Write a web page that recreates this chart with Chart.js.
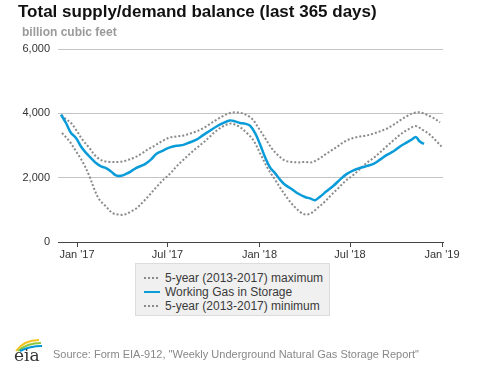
<!DOCTYPE html>
<html>
<head>
<meta charset="utf-8">
<script src="https://cdn.jsdelivr.net/npm/chart.js"></script>
<style>
  body { margin: 0; background: #fff; font-family: "Liberation Sans", Arial, sans-serif; }
  #wrap { position: relative; width: 477px; height: 367px; overflow: hidden; }
  #chart { position: absolute; left: 0; top: 0; }
  .title { position: absolute; left: 18px; top: 3px; font-size: 17px; font-weight: bold; color: #111; line-height: 17px; }
  .subtitle { position: absolute; left: 22px; top: 26px; font-size: 12px; font-weight: bold; color: #9a9a9a; line-height: 12px; }
  #legend { position: absolute; left: 135px; top: 263px; width: 193px; height: 51px; background: #f0f0f0; border: 1px solid #dcdcdc; }
  .row { position: absolute; left: 0; height: 14px; font-size: 12px; color: #3a3a3a; line-height: 14px; }
  .sample { position: absolute; left: 8px; top: 6px; width: 16px; height: 2px; }
  .label { position: absolute; left: 29px; top: 0; white-space: nowrap; }
  .source { position: absolute; left: 53px; top: 348px; font-size: 11px; color: #888; line-height: 13px; }
  #logo { position: absolute; left: 12px; top: 336px; }
</style>
</head>
<body>
<div id="wrap">
  <canvas id="chart" width="477" height="367"></canvas>
  <div class="title">Total supply/demand balance (last 365 days)</div>
  <div class="subtitle">billion cubic feet</div>
  <div id="legend"></div>
  <svg id="logo" width="36" height="30" viewBox="0 0 36 30">
    <path d="M4 15 Q12 4 27 4" stroke="#f5c21b" stroke-width="2" fill="none"/>
    <path d="M6 15 Q15 7 29 7" stroke="#8dc63f" stroke-width="2" fill="none"/>
    <path d="M8 15 Q18 10 30 10" stroke="#0096d7" stroke-width="2" fill="none"/>
    <text x="2" y="25" font-family="DejaVu Serif, serif" font-size="17" fill="#333">eia</text>
  </svg>
  <div class="source">Source: Form EIA-912, "Weekly Underground Natural Gas Storage Report"</div>
</div>
<script>
// x values are days counted from Jan 1 2017
const tickDays = [0, 181, 365, 546, 730];
const tickLabels = ["Jan '17", "Jul '17", "Jan '18", "Jul '18", "Jan '19"];

const maxDays = [-31, -25, -12, -2, 11, 25, 38, 51, 65, 85, 98, 115, 129, 143, 156, 173, 186, 199, 213, 226, 239, 253, 266, 279, 293, 306, 319, 333, 349, 363, 376, 389, 403, 416, 429, 443, 456, 469, 483, 496, 509, 523, 536, 553, 566, 579, 593, 606, 619, 633, 646, 659, 673, 686, 699, 713, 726];
const maxValues = [3950, 3855, 3700, 3490, 3180, 2920, 2660, 2530, 2490, 2490, 2530, 2630, 2745, 2890, 3000, 3160, 3250, 3280, 3310, 3370, 3440, 3545, 3670, 3800, 3925, 4010, 4030, 3990, 3850, 3545, 3235, 2920, 2685, 2530, 2490, 2475, 2490, 2475, 2580, 2715, 2850, 2990, 3130, 3235, 3280, 3310, 3370, 3440, 3520, 3645, 3780, 3905, 4010, 4030, 3960, 3855, 3720];

const gasDays = [-32, -22, -12, -2, 8, 18, 28, 38, 48, 58, 68, 78, 88, 98, 108, 118, 136, 149, 159, 173, 186, 199, 213, 226, 239, 253, 266, 279, 293, 306, 316, 326, 336, 346, 356, 366, 376, 386, 396, 406, 416, 429, 443, 456, 466, 476, 486, 499, 513, 526, 539, 553, 566, 579, 593, 606, 619, 633, 646, 659, 669, 678, 685, 694];
const gasValues = [3960, 3700, 3390, 3235, 2970, 2770, 2610, 2455, 2350, 2300, 2195, 2070, 2060, 2115, 2195, 2300, 2420, 2580, 2745, 2850, 2940, 2990, 3020, 3100, 3180, 3330, 3460, 3590, 3700, 3780, 3750, 3700, 3680, 3620, 3390, 3040, 2640, 2320, 2140, 1940, 1780, 1650, 1500, 1400, 1355, 1300, 1410, 1575, 1750, 1940, 2110, 2230, 2300, 2360, 2430, 2560, 2700, 2820, 2970, 3090, 3180, 3260, 3130, 3050];

const minDays = [-30, -15, -2, 11, 25, 35, 45, 58, 71, 85, 95, 108, 118, 133, 146, 159, 173, 186, 199, 213, 226, 239, 253, 266, 279, 293, 306, 316, 326, 339, 352, 368, 383, 396, 409, 423, 436, 453, 466, 479, 496, 509, 523, 536, 553, 566, 579, 593, 606, 619, 633, 646, 659, 673, 680, 693, 706, 719, 729];
const minValues = [3390, 3130, 2820, 2500, 2040, 1625, 1315, 1105, 900, 850, 850, 950, 1035, 1260, 1480, 1710, 1940, 2120, 2350, 2560, 2745, 2920, 3095, 3280, 3460, 3600, 3680, 3650, 3570, 3400, 3180, 2700, 2250, 1940, 1625, 1315, 1080, 870, 880, 1030, 1260, 1470, 1680, 1885, 2090, 2270, 2455, 2610, 2785, 2970, 3160, 3335, 3470, 3590, 3595, 3470, 3335, 3130, 2970];

const pairs = (xs, ys) => xs.map((x, i) => ({ x: x, y: ys[i] }));

const grey = "#8a8a8a";
const blue = "#0a9bd9";

const datasets = [
  { label: "5-year (2013-2017) maximum", data: pairs(maxDays, maxValues), borderColor: grey, borderWidth: 2, borderDash: [2, 2], dotted: true },
  { label: "Working Gas in Storage", data: pairs(gasDays, gasValues), borderColor: blue, borderWidth: 2.5, order: -1 },
  { label: "5-year (2013-2017) minimum", data: pairs(minDays, minValues), borderColor: grey, borderWidth: 2, borderDash: [2, 2], dotted: true }
];

const chart = new Chart(document.getElementById("chart"), {
  type: "line",
  data: { datasets: datasets },
  options: {
    responsive: false,
    animation: false,
    layout: { padding: { left: 0, top: 49, right: 34, bottom: 105 } },
    elements: { point: { radius: 0 }, line: { tension: 0.35, fill: false } },
    plugins: { legend: { display: false }, tooltip: { enabled: false } },
    scales: {
      x: {
        type: "linear",
        min: -38,
        max: 732,
        afterFit: (s) => { s.height = 20; },
        afterBuildTicks: (s) => { s.ticks = tickDays.map(v => ({ value: v })); },
        grid: { drawOnChartArea: false, drawTicks: true, tickLength: 5, color: "#444" },
        border: { display: true, color: "#444", width: 1 },
        ticks: {
          padding: 1,
          maxRotation: 0,
          autoSkip: false,
          color: "#333",
          font: { family: "Liberation Sans", size: 11 },
          callback: (v) => tickLabels[tickDays.indexOf(v)]
        }
      },
      y: {
        min: 0,
        max: 6000,
        afterFit: (s) => { s.width = 58; },
        grid: { color: "#c4c4c4", drawTicks: false },
        border: { display: false },
        ticks: {
          stepSize: 2000,
          padding: 8,
          color: "#333",
          font: { family: "Liberation Sans", size: 11 },
          callback: (v) => v.toLocaleString("en-US")
        }
      }
    }
  }
});

// legend box drawn in html, built from the datasets
const legend = document.getElementById("legend");
chart.data.datasets.forEach((ds, i) => {
  const row = document.createElement("div");
  row.className = "row";
  row.style.top = (7 + i * 14) + "px";
  const sample = document.createElement("div");
  sample.className = "sample";
  if (ds.dotted) {
    sample.style.background = "repeating-linear-gradient(to right, " + ds.borderColor + " 0 2px, transparent 2px 4px)";
  } else {
    sample.style.background = ds.borderColor;
  }
  const label = document.createElement("div");
  label.className = "label";
  label.textContent = ds.label;
  row.appendChild(sample);
  row.appendChild(label);
  legend.appendChild(row);
});
</script>
</body>
</html>
